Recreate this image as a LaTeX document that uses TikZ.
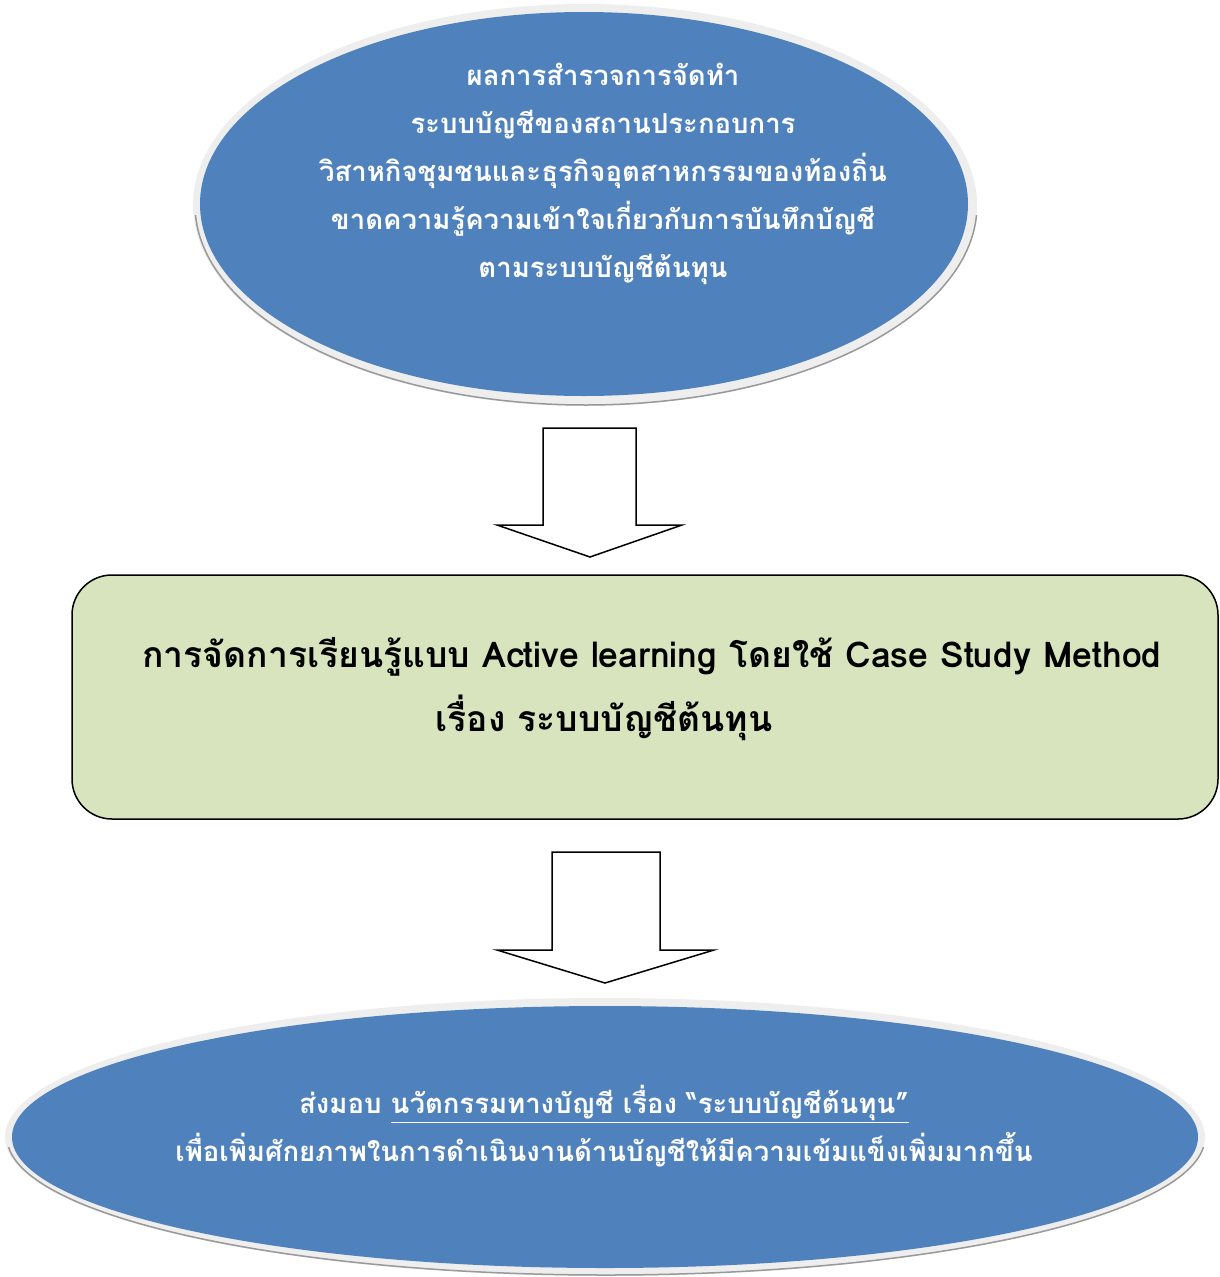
\documentclass[tikz,border=0pt]{standalone}
\usepackage{fontspec}
\newfontfamily\thai[Script=Thai]{Loma}
\usetikzlibrary{shapes.geometric}
\definecolor{ellblue}{HTML}{4F81BD}
\definecolor{boxgreen}{HTML}{D7E4BD}
\definecolor{rimgray}{HTML}{EEEEEE}
\tikzset{
  blueell/.style={ellipse, fill=ellblue, inner sep=0pt},
  blockarrow/.style={draw=black, fill=white, line width=1.5pt, line join=miter},
  whitetext/.style={text=white, align=center, inner sep=0pt, font=\thai\bfseries},
  boxtext/.style={text=black, inner sep=0pt, font=\thai\bfseries\fontsize{35.5}{42}\selectfont},
}
\begin{document}
\begin{tikzpicture}[x=1pt,y=-1pt]
\useasboundingbox (0,0) rectangle (1220,1277);
% top ellipse
\fill[rimgray] (585,205) ellipse [x radius=392, y radius=201];
\begin{scope}
\clip (0,215) rectangle (1220,420);
\draw[black!40, line width=1.5pt] (586,205) ellipse [x radius=391, y radius=200];
\end{scope}
\node[blueell, minimum width=768pt, minimum height=384pt] (top) at (584,204) {};
\node[whitetext, font=\thai\bfseries\fontsize{27.5}{48}\selectfont] (toptext) at (603,174)
 {ผลการสำรวจการจัดทำ\\ระบบบัญชีของสถานประกอบการ\\วิสาหกิจชุมชนและธุรกิจอุตสาหกรรมของท้องถิ่น\\ขาดความรู้ความเข้าใจเกี่ยวกับการบันทึกบัญชี\\ตามระบบบัญชีต้นทุน};
% arrow 1
\draw[blockarrow] (543,428) -- (636,428) -- (636,525) -- (682,525) -- (590,557) -- (497,525) -- (543,525) -- cycle;
% middle box
\node[draw=black, line width=1.5pt, rounded corners=40pt, fill=boxgreen, minimum width=1146pt, minimum height=244pt] (mid) at (645,697) {};
\node[boxtext] (midl1) at (652,657) {การจัดการเรียนรู้แบบ Active learning โดยใช้ Case Study Method};
\node[boxtext] (midl2) at (604,718) {เรื่อง ระบบบัญชีต้นทุน};
% arrow 2
\draw[blockarrow] (552,852) -- (660,852) -- (660,950) -- (714,950) -- (605,983) -- (497,950) -- (552,950) -- cycle;
% bottom ellipse
\fill[rimgray] (605,1137) ellipse [x radius=600, y radius=139];
\begin{scope}
\clip (0,1147) rectangle (1220,1277);
\draw[black!40, line width=1.5pt] (606,1137) ellipse [x radius=599, y radius=138];
\end{scope}
\node[blueell, minimum width=1186pt, minimum height=262pt] (bot) at (605,1137) {};
\node[whitetext, font=\thai\bfseries\fontsize{27.5}{48}\selectfont] (bottext) at (604,1126)
 {ส่งมอบ \underline{นวัตกรรมทางบัญชี เรื่อง “ระบบบัญชีต้นทุน”}\\เพื่อเพิ่มศักยภาพในการดำเนินงานด้านบัญชีให้มีความเข้มแข็งเพิ่มมากขึ้น};
\end{tikzpicture}
\end{document}
